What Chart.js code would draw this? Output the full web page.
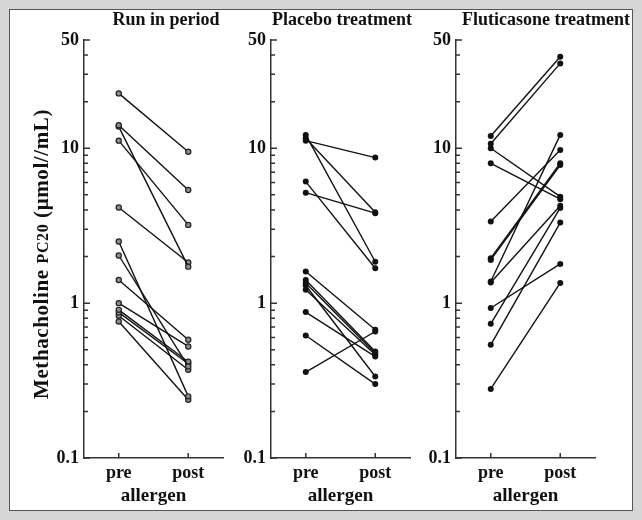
<!DOCTYPE html>
<html>
<head>
<meta charset="utf-8">
<script src="https://cdn.jsdelivr.net/npm/chart.js@4.4.0/dist/chart.umd.min.js"></script>
<style>
  body { margin: 0; background: #d6d6d6; }
  #frame { position: relative; width: 642px; height: 520px; background: #d6d6d6; overflow: hidden; }
  #inner { position: absolute; left: 9px; top: 9px; width: 622px; height: 500px; background: #fff; border: 1px solid #555; }
  canvas { position: absolute; top: 10px; }
</style>
</head>
<body>
<div id="frame">
  <div id="inner"></div>
  <canvas id="c1" style="left:10px" width="219" height="500"></canvas>
  <canvas id="c2" style="left:229px" width="187" height="500"></canvas>
  <canvas id="c3" style="left:414px" width="218" height="500"></canvas>
</div>
<script>
// values (µmol/mL), each pre[i] is joined to post[i]
const panelTitles = ['Run in period', 'Placebo treatment', 'Fluticasone treatment'];
const phases = ['pre', 'post'];

const runPre  = [22.6, 14.1, 13.8, 11.2, 4.14, 2.50, 2.03, 1.41, 1.00, 0.905, 0.871, 0.828, 0.761];
const runPost = [9.5, 5.38, 1.72, 3.20, 1.83, 0.25, 0.39, 0.58, 0.525, 0.418, 0.406, 0.371, 0.238];

const placeboPre  = [12.2, 11.6, 11.2, 6.09, 5.17, 1.60, 1.41, 1.35, 1.30, 1.22, 0.875, 0.618, 0.359];
const placeboPost = [1.85, 3.86, 8.7, 1.68, 3.81, 0.673, 0.487, 0.475, 0.336, 0.464, 0.452, 0.30, 0.656];

const flutPre  = [12.0, 10.7, 10.0, 8.0, 3.36, 1.95, 1.90, 1.38, 1.36, 0.93, 0.735, 0.538, 0.279];
const flutPost = [39.0, 35.3, 4.87, 4.69, 9.75, 8.0, 7.8, 12.2, 4.25, 1.79, 4.12, 3.31, 1.35];

const yTicks = [0.1, 0.2, 0.3, 0.4, 0.5, 0.6, 0.7, 0.8, 0.9, 1, 2, 3, 4, 5, 6, 7, 8, 9, 10, 20, 30, 40, 50];
const yLabelled = [0.1, 1, 10, 50];
const yTitle = ['Methacholine ', 'PC20', ' (\u03bcmol//mL)'];
const xTitle = 'allergen';

const serif = "'Liberation Serif', 'Times New Roman', serif";
const axisColor = '#333';

// inward tick marks, panel title, y axis title
const panelDecor = {
  id: 'panelDecor',
  afterDraw(chart) {
    const ctx = chart.ctx;
    const a = chart.chartArea;
    const ys = chart.scales.y, xs = chart.scales.x;
    const o = chart.options.plugins.panelDecor;
    ctx.save();
    ctx.strokeStyle = axisColor;
    ctx.lineWidth = 1.5;
    ctx.beginPath();
    yTicks.forEach(v => {
      const py = ys.getPixelForValue(v);
      ctx.moveTo(a.left, py);
      ctx.lineTo(a.left + (yLabelled.includes(v) ? 6 : 4), py);
    });
    phases.forEach((p, i) => {
      const px = xs.getPixelForValue(i);
      ctx.moveTo(px, a.bottom);
      ctx.lineTo(px, a.bottom - 5);
    });
    ctx.stroke();
    ctx.fillStyle = '#111';
    ctx.font = 'bold 18px ' + serif;
    ctx.textAlign = 'center';
    ctx.textBaseline = 'alphabetic';
    ctx.fillText(o.title, o.titleX, 15);

    if (o.yTitle) {
      const fonts = ['bold 21px ' + serif, 'bold 16px ' + serif, 'bold 21px ' + serif];
      ctx.translate(o.yTitleX, o.yTitleY);
      ctx.rotate(-Math.PI / 2);
      ctx.letterSpacing = '0.6px';
      const widths = yTitle.map((t, i) => { ctx.font = fonts[i]; return ctx.measureText(t).width; });
      let x = -widths.reduce((s, w) => s + w, 0) / 2;
      ctx.textAlign = 'left';
      yTitle.forEach((t, i) => {
        ctx.font = fonts[i];
        ctx.fillText(t, x, 0);
        x += widths[i];
      });
    }
    ctx.restore();
  }
};

function makePanel(id, idx, pre, post, yWidth, padRight, titleX, hollow) {
  const datasets = pre.map((v, i) => ({
    data: [v, post[i]],
    borderColor: '#111',
    borderWidth: 1.4,
    pointRadius: hollow ? 2.6 : 3,
    pointBackgroundColor: hollow ? '#8c8c8c' : '#111',
    pointBorderColor: '#222',
    pointBorderWidth: hollow ? 1.2 : 0
  }));

  new Chart(document.getElementById(id), {
    type: 'line',
    data: { labels: phases, datasets: datasets },
    options: {
      responsive: false,
      animation: false,
      devicePixelRatio: 1,
      layout: { padding: { top: 30, right: padRight, left: 0, bottom: 0 } },
      plugins: {
        legend: { display: false },
        tooltip: { enabled: false },
        panelDecor: {
          title: panelTitles[idx],
          titleX: titleX,
          yTitle: idx === 0,
          yTitleX: 38,
          yTitleY: 244
        }
      },
      scales: {
        x: {
          type: 'category',
          offset: true,
          grid: { display: false, drawTicks: false },
          border: { display: true, color: axisColor, width: 1.5 },
          ticks: { color: '#111', font: { family: serif, size: 18, weight: 'bold' }, padding: 5 },
          title: { display: true, text: xTitle, color: '#111',
                   font: { family: serif, size: 19, weight: 'bold' }, padding: { top: 0, bottom: 3 } },
          afterFit: s => { s.height = 52; }
        },
        y: {
          type: 'logarithmic',
          min: 0.1,
          max: 50,
          grid: { display: false, drawTicks: false },
          border: { display: true, color: axisColor, width: 1.5 },
          afterBuildTicks: s => { s.ticks = yTicks.map(v => ({ value: v })); },
          ticks: {
            autoSkip: false,
            color: '#111',
            padding: 5,
            font: { family: serif, size: 18, weight: 'bold' },
            callback: v => yLabelled.includes(v) ? String(v) : ''
          },
          afterFit: s => { s.width = yWidth; }
        }
      }
    },
    plugins: [panelDecor]
  });
}

makePanel('c1', 0, runPre, runPost, 74, 6, 156, true);
makePanel('c2', 1, placeboPre, placeboPost, 42, 6, 113, false);
makePanel('c3', 2, flutPre, flutPost, 42, 37, 132, false);
</script>
</body>
</html>
